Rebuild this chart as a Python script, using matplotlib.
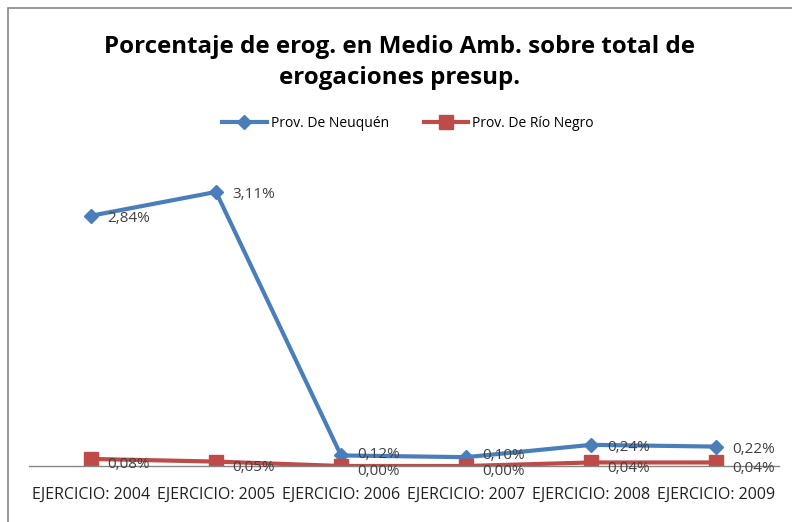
import matplotlib.pyplot as plt
from matplotlib.patches import Rectangle
import numpy as np

# Data
years = ['EJERCICIO: 2004', 'EJERCICIO: 2005', 'EJERCICIO: 2006',
         'EJERCICIO: 2007', 'EJERCICIO: 2008', 'EJERCICIO: 2009']
neuquen = [2.84, 3.11, 0.12, 0.10, 0.24, 0.22]
rio_negro = [0.08, 0.05, 0.00, 0.00, 0.04, 0.04]

blue = '#4A7EBB'
red = '#BE4B48'
font = 'Open Sans'

fig = plt.figure(figsize=(7.92, 5.22), dpi=100)
ax = fig.add_axes([0.036, 0.1073, 0.947, 0.5908])

x = np.arange(len(years))
ax.plot(x, neuquen, color=blue, lw=3, marker='D', ms=7, label='Prov. De Neuquén')
ax.plot(x, rio_negro, color=red, lw=3, marker='s', ms=10, label='Prov. De Río Negro')

# data labels, right of each point (small nudge so the low ones don't collide)
for xi, v in zip(x, neuquen):
    dy = 1 if v < 0.2 else -2
    ax.annotate(f'{v:.2f}%'.replace('.', ','), (xi, v), xytext=(12, dy),
                textcoords='offset points', ha='left', va='center',
                fontsize=11, color='#404040', family=font)
for xi, v in zip(x, rio_negro):
    ax.annotate(f'{v:.2f}%'.replace('.', ','), (xi, v), xytext=(12, -4),
                textcoords='offset points', ha='left', va='center',
                fontsize=11, color='#404040', family=font)

ax.set_xlim(-0.5, 5.5)
ax.set_ylim(0, 3.5)
ax.set_xticks(x)
ax.set_xticklabels(years, fontsize=11.5, color='#202020', family=font)
ax.tick_params(axis='x', length=0, pad=15)
ax.set_yticks([])
for s in ['top', 'right', 'left']:
    ax.spines[s].set_visible(False)
ax.spines['bottom'].set_color('#868686')
ax.spines['bottom'].set_linewidth(1)

fig.text(0.505, 0.88, 'Porcentaje de erog. en Medio Amb. sobre total de\nerogaciones presup.',
         ha='center', va='center', fontsize=17.4, fontweight='bold', family=font,
         linespacing=1.4)

leg = fig.legend(loc='center', bbox_to_anchor=(0.515, 0.764), ncol=2, frameon=False,
                 prop={'family': font, 'size': 10}, handlelength=3.2,
                 columnspacing=2.5, handletextpad=0.3)

# chart border (right and bottom edges cut off)
fig.patches.append(Rectangle((8 / 792, -0.1), 1.2, 1 - 8 / 522 + 0.1,
                             transform=fig.transFigure, fill=False,
                             edgecolor='#868686', lw=1.2))

plt.savefig('out.png', dpi=100)
